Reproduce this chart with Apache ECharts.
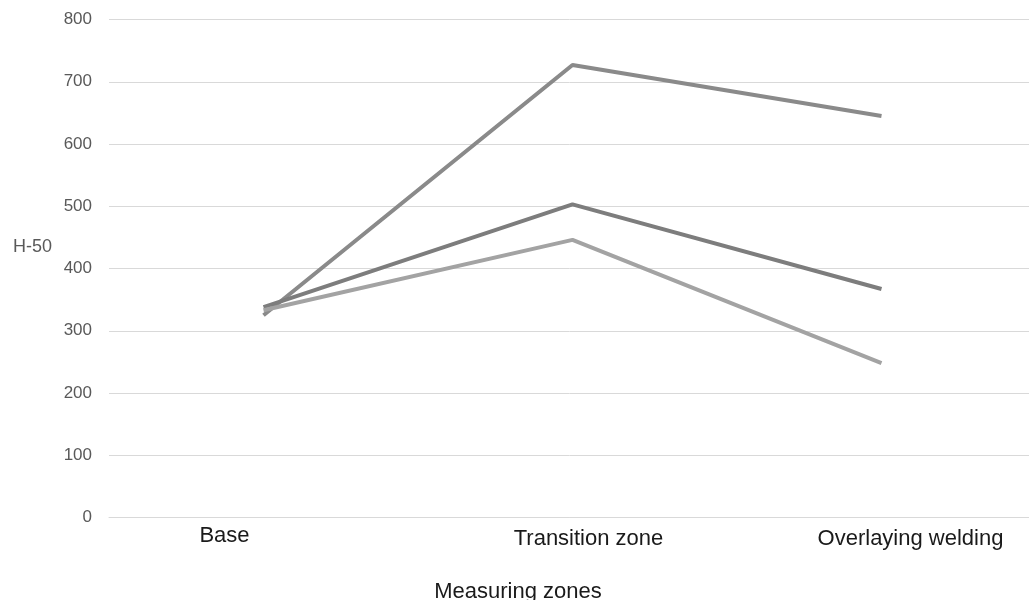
<!DOCTYPE html>
<html>
<head>
<meta charset="utf-8">
<title>H-50 by measuring zone</title>
<script src="https://cdn.jsdelivr.net/npm/echarts@6/dist/echarts.min.js"></script>
<style>
  html, body { margin: 0; padding: 0; background: #ffffff; }
  #chart { width: 1029px; height: 600px; }
</style>
</head>
<body>
<div id="chart"></div>
<script>
// Measuring zones along the x axis
const zones = ['Base', 'Transition zone', 'Overlaying welding'];

// Hardness values, one array per sample
const sampleA = [325, 727, 645];
const sampleB = [338, 503, 367];
const sampleC = [333, 446, 248];

// Value axis ticks
const yMin = 0;
const yMax = 800;
const yStep = 100;

// Per-label offsets for the category labels
const zoneLabelPadding = [
  [0, 78, 0, 0],
  [3, 0, 0, 32],
  [3, 0, 0, 58]
];

const chart = echarts.init(document.getElementById('chart'), null, { renderer: 'canvas' });

const lineSeries = (name, data, color) => ({
  name: name,
  type: 'line',
  data: data,
  symbol: 'none',
  smooth: false,
  lineStyle: { color: color, width: 4 },
  itemStyle: { color: color },
  emphasis: { disabled: true }
});

chart.setOption({
  animation: false,
  backgroundColor: '#ffffff',
  textStyle: { fontFamily: 'Liberation Sans, Arial, sans-serif' },
  grid: {
    left: 109, top: 19.5, width: 927, height: 498,
    containLabel: false,
    outerBoundsMode: 'none'
  },
  xAxis: {
    type: 'category',
    boundaryGap: true,
    data: zones.map((z, i) => ({ value: z, textStyle: { padding: zoneLabelPadding[i] } })),
    axisLine: { show: true, lineStyle: { color: '#d9d9d9', width: 1 } },
    axisTick: { show: false },
    axisLabel: {
      interval: 0,
      margin: 7,
      fontSize: 22,
      color: '#1a1a1a',
      hideOverlap: false
    },
    splitLine: { show: false },
    name: 'Measuring zones',
    nameLocation: 'middle',
    nameGap: 63,
    nameTextStyle: { fontSize: 22, color: '#1a1a1a', padding: [0, 109, 0, 0] }
  },
  yAxis: {
    type: 'value',
    min: yMin,
    max: yMax,
    interval: yStep,
    axisLine: { show: false },
    axisTick: { show: false },
    axisLabel: { margin: 17, fontSize: 17, color: '#595959' },
    splitLine: { show: true, lineStyle: { color: '#d9d9d9', width: 1 } },
    name: 'H-50',
    nameLocation: 'middle',
    nameRotate: 0,
    nameGap: 57,
    nameTextStyle: {
      fontSize: 18,
      color: '#595959',
      align: 'right',
      verticalAlign: 'bottom',
      lineHeight: 43
    }
  },
  series: [
    lineSeries('A', sampleA, '#8a8a8a'),
    lineSeries('B', sampleB, '#7d7d7d'),
    lineSeries('C', sampleC, '#a3a3a3')
  ]
});
</script>
</body>
</html>
